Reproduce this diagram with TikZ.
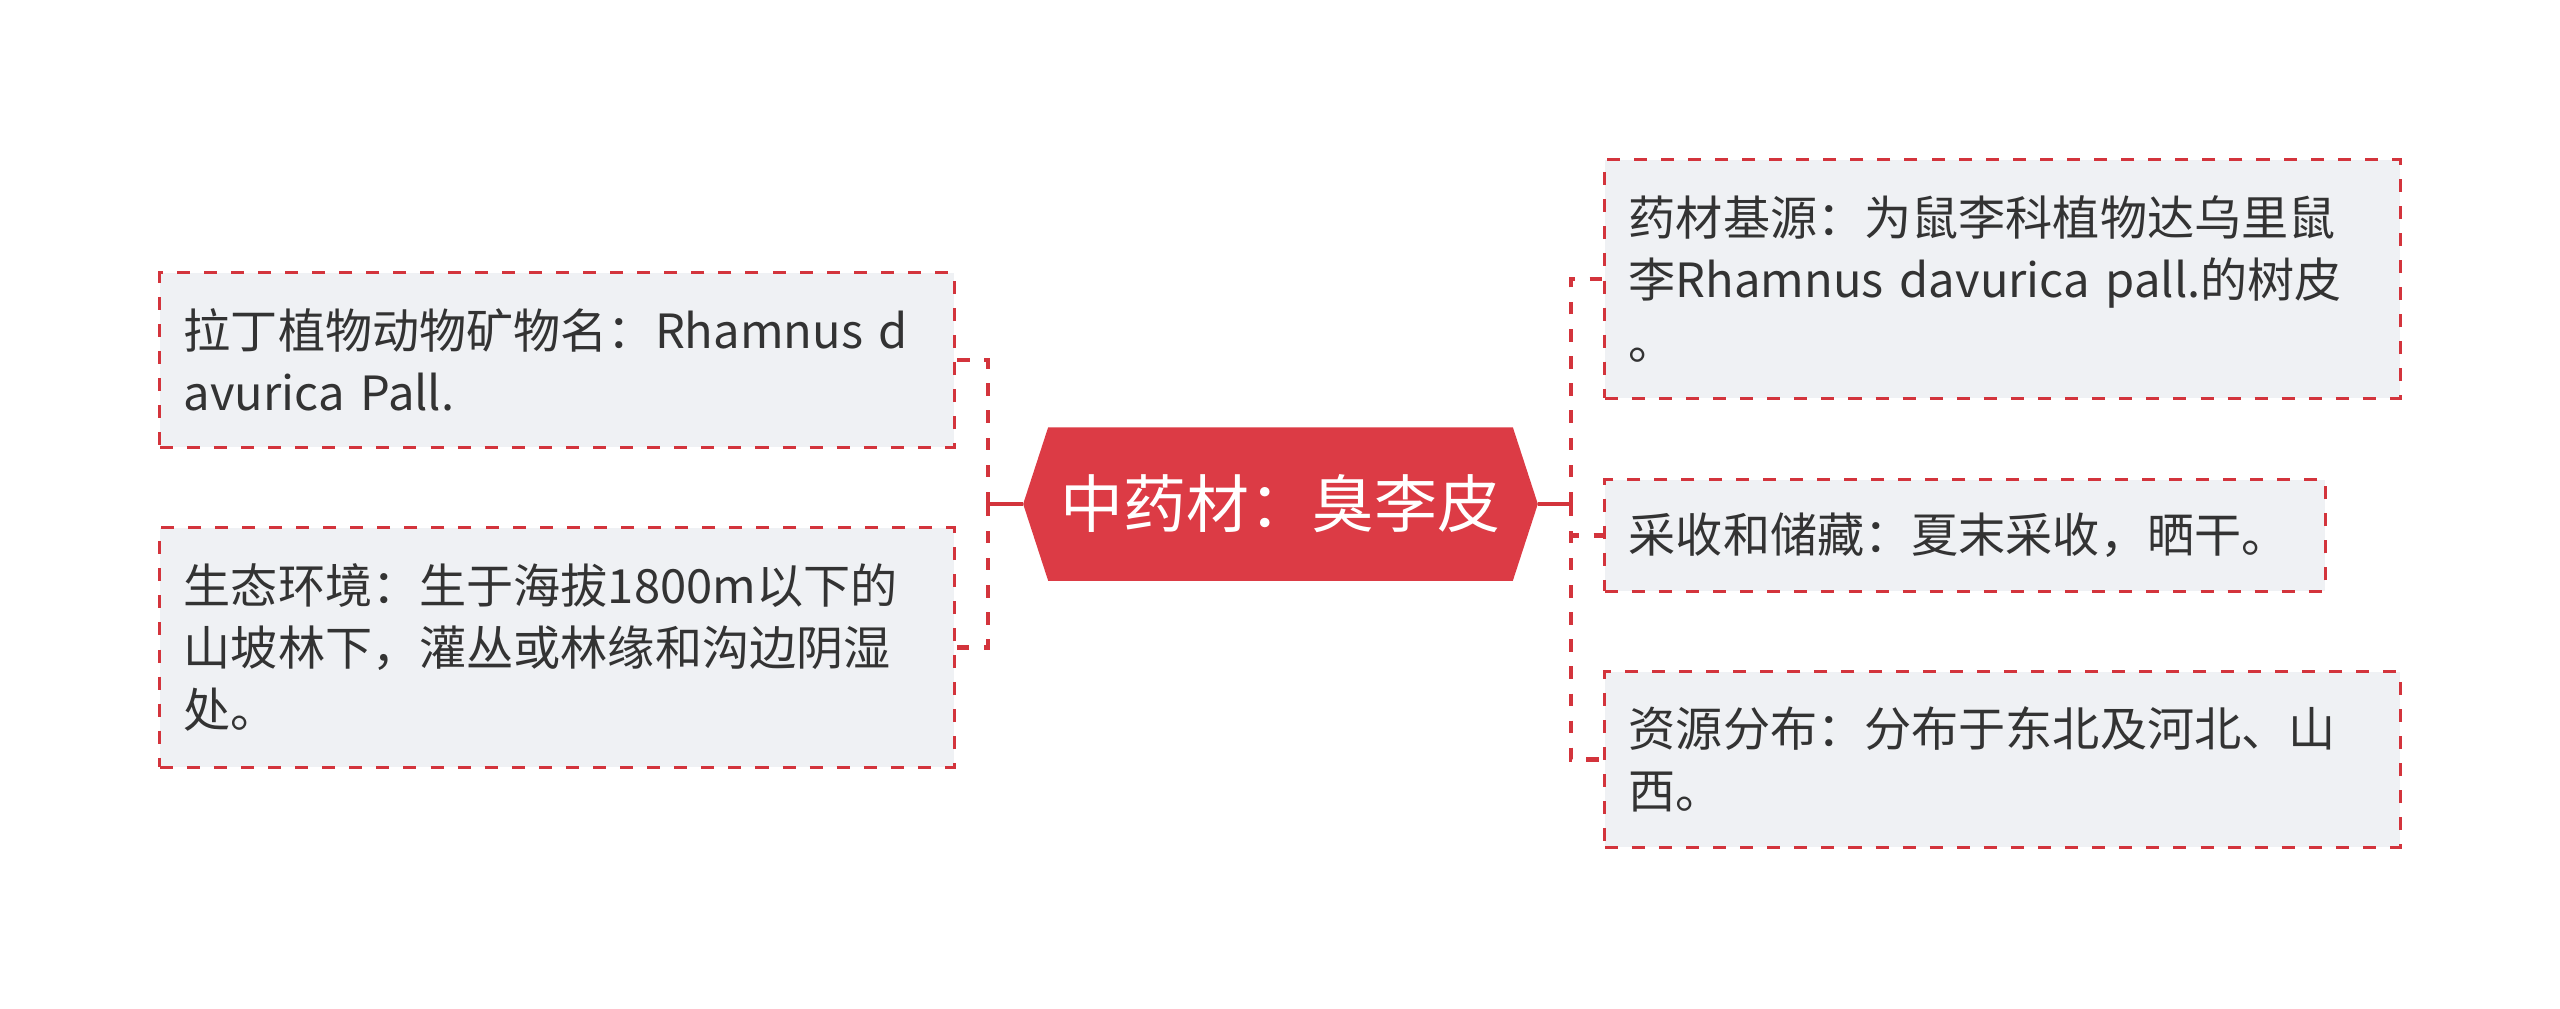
\documentclass[tikz,border=0pt]{standalone}
\usepackage{fontspec}
\setmainfont{Noto Sans CJK SC}
\usetikzlibrary{calc,backgrounds}
\definecolor{rootred}{RGB}{220,59,69}
\definecolor{linkred}{RGB}{211,52,60}
\definecolor{leafgrey}{RGB}{239,241,244}
\definecolor{txtgrey}{RGB}{51,51,51}

\begin{document}
\begin{tikzpicture}[x=0.01cm, y=-0.01cm,
    root/.style={minimum width=4.63cm, minimum height=1.52cm, inner sep=0pt, text=white, font=\fontsize{17.9pt}{21pt}\selectfont},
    leaf/.style={draw=linkred, line width=0.85pt, dash pattern=on 3.7pt off 4pt, fill=leafgrey, inner xsep=0.24cm, inner ysep=0pt, align=left, text=txtgrey, font=\fontsize{13.4pt}{17.6pt}\selectfont},
    link/.style={linkred, line width=1.4pt},
    dlink/.style={link, dash pattern=on 3.5pt off 4.2pt}
]
    \useasboundingbox (0,0) rectangle (2560,1008);
    \node[root] (root) at (1280.5,504) {中药材：臭李皮};
    \coordinate (rootL) at ($(root.west)+(-25,0)$);
    \coordinate (rootR) at ($(root.east)+(25,0)$);
    \begin{scope}[on background layer]
        \fill[rootred] (root.north west) -- (root.north east) -- (rootR) -- (root.south east) -- (root.south west) -- (rootL) -- cycle;
    \end{scope}

    \node[leaf, minimum width=7.94cm, minimum height=1.74cm, text width=7.46cm] (lat) at (557,360) {拉丁植物动物矿物名：Rhamnus d\\avurica Pall.};
    \node[leaf, minimum width=7.94cm, minimum height=2.39cm, text width=7.46cm] (eco) at (557,647.5) {生态环境：生于海拔1800m以下的\\山坡林下，灌丛或林缘和沟边阴湿\\处。};
    \node[leaf, minimum width=7.95cm, minimum height=2.38cm, text width=7.47cm] (src) at (2002.5,279) {药材基源：为鼠李科植物达乌里鼠\\李Rhamnus davurica pall.的树皮\\。};
    \node[leaf, minimum width=7.20cm, minimum height=1.11cm, text width=6.72cm] (harv) at (1965,535.5) {采收和储藏：夏末采收，晒干。};
    \node[leaf, minimum width=7.95cm, minimum height=1.75cm, text width=7.47cm] (dist) at (2002.5,759.5) {资源分布：分布于东北及河北、山\\西。};

    \coordinate (lj) at (988,504);
    \coordinate (rj) at (1571,504);
    \draw[link] (rootL) -- (lj);
    \draw[link] (rootR) -- (rj);
    \draw[dlink] (lj) |- (lat.east);
    \draw[dlink] (lj) |- (eco.east);
    \draw[dlink] (rj) |- (src.west);
    \draw[dlink] (rj) |- (harv.west);
    \draw[dlink] (rj) |- (dist.west);
\end{tikzpicture}
\end{document}
